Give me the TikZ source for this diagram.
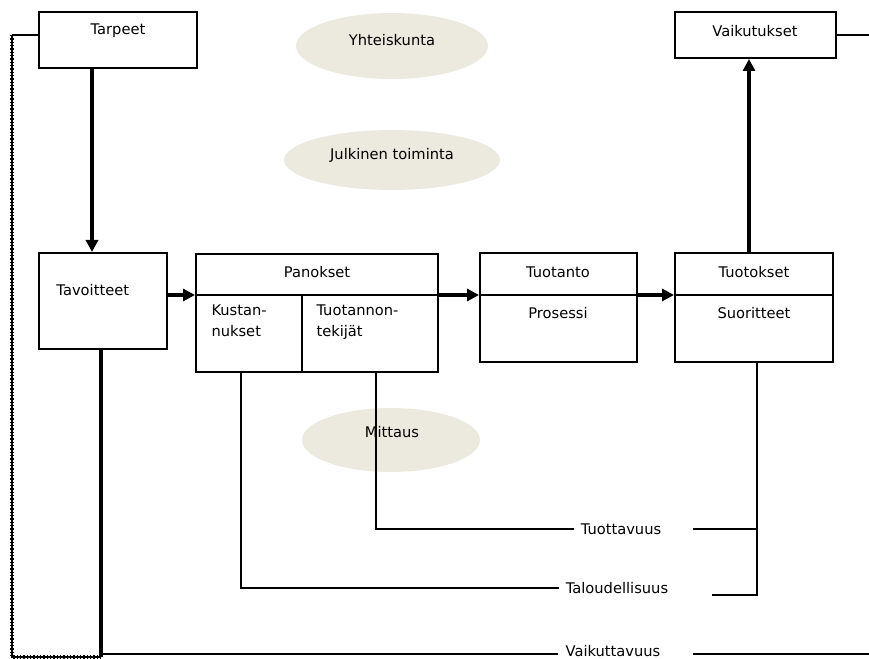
\documentclass[tikz,border=0pt]{standalone}
\usepackage{fontspec}
\setmainfont{DejaVu Sans}
\usetikzlibrary{positioning,shapes.geometric,arrows.meta}
\definecolor{mistgray}{RGB}{236,233,222}

\tikzset{every picture/.style={line width=0.75pt}}
\tikzset{
  box/.style={draw, line width=1.5pt, inner sep=0pt},
  cloud/.style={ellipse, fill=mistgray, draw=none, inner sep=0pt},
  txt/.style={inner sep=0.75pt, font=\fontsize{11}{16}\selectfont},
  measure/.style={txt, inner xsep=5pt},
  wire/.style={line width=1.5pt},
  bar/.style={line width=3pt},
  flow/.style={line width=3pt, -{Triangle[length=9pt,width=9pt]}},
  hatch/.style={line width=1pt, preaction={draw, line width=3pt, dash pattern=on 1pt off 1.5pt}}
}

\begin{document}
\begin{tikzpicture}[x=0.75pt,y=0.75pt,yscale=-1,xscale=1]
\useasboundingbox (0,0) rectangle (869,659);

%Ellipses
\node[cloud, minimum width=144pt, minimum height=49.5pt] (yhteis) at (392,46) {};
\node[cloud, minimum width=162pt, minimum height=45pt] (julkinen) at (392,160) {};
\node[cloud, minimum width=133.5pt, minimum height=48pt] (mittaus) at (391,440) {};
% Text Node
\node[txt] (yhteisT) at (392,40) {Yhteiskunta};
\node[txt] (julkinenT) at (392,155) {Julkinen toiminta};
\node[txt] (mittausT) at (392,432) {Mittaus};

%Rectangles
\node[box, minimum width=118.5pt, minimum height=42pt] (tarpeet) at (118,40) {};
\node[box, minimum width=120.75pt, minimum height=34.5pt] (vaikutukset) at (755.5,35) {};
\node[box, minimum width=96pt, minimum height=72pt] (tavoitteet) at (103,301) {};
\node[box, minimum width=181.5pt, minimum height=88.5pt] (panokset) at (317,313) {};
\node[box, minimum width=117.75pt, minimum height=81.75pt] (tuotanto) at (558.5,307.5) {};
\node[box, minimum width=118.5pt, minimum height=81.75pt] (tuotokset) at (754,307.5) {};

%Dividers
\draw[wire] (panokset.west |- 0,295) -- (panokset.east |- 0,295);
\draw[wire] (302,295) -- (panokset.south -| 302,0);
\draw[wire] (tuotanto.west |- 0,295) -- (tuotanto.east |- 0,295);
\draw[wire] (tuotokset.west |- 0,295) -- (tuotokset.east |- 0,295);

% Text Node
\node[txt] (tarpeetT) at (118,31) {Tarpeet};
\node[txt] (vaikutuksetT) at (755,31) {Vaikutukset};
\node[txt, anchor=west] (tavoitteetT) at (55,290) {Tavoitteet};
\node[txt] (panoksetT) at (317,272) {Panokset};
\node[txt, anchor=north west, align=left] (kustT) at (210,303) {Kustan-\\nukset};
\node[txt, anchor=north west, align=left] (tekijatT) at (315,303) {Tuotannon-\\tekijät};
\node[txt] (tuotantoT) at (558,272) {Tuotanto};
\node[txt] (prosessiT) at (558,313) {Prosessi};
\node[txt] (tuotoksetT) at (754,272) {Tuotokset};
\node[txt] (suoritteetT) at (754,313) {Suoritteet};

%Flow arrows
\draw[flow] (tarpeet.south -| 92,0) -- (tavoitteet.north -| 92,0);
\draw[flow] (tavoitteet.east |- 0,295) -- (panokset.west |- 0,295);
\draw[flow] (panokset.east |- 0,295) -- (tuotanto.west |- 0,295);
\draw[flow] (tuotanto.east |- 0,295) -- (tuotokset.west |- 0,295);
\draw[flow] (tuotokset.north -| 749,0) -- (vaikutukset.south -| 749,0);

%Measures
\node[measure] (tuottavuus) at (621,529) {Tuottavuus};
\node[measure] (taloudellisuus) at (617,588) {Taloudellisuus};
\node[measure] (vaikuttavuus) at (613,651) {Vaikuttavuus};
\coordinate (suorA) at (693,529);
\coordinate (suorB) at (712,595);
\coordinate (vaikA) at (693,654);
\coordinate (vaikB) at (869,654);
\coordinate (oikea) at (869,35);

\draw[wire] (panokset.south -| 376,0) |- (tuottavuus.west);
\draw[wire] (panokset.south -| 241,0) |- (taloudellisuus.west);
\draw[wire] (tuotokset.south -| 757,0) |- (suorB);
\draw[wire] (suorA) -- (suorA -| 757,0);
\draw[bar] (tavoitteet.south -| 101,0) -- (101,657);
\draw[wire] (101,654) -- (vaikuttavuus.west |- 0,654);
\draw[wire] (vaikA) -- (vaikB);

%Outer loop
\draw[wire] (tarpeet.west |- 0,35) -- (12,35);
\draw[hatch] (12,35) -- (12,657) -- (101,657);
\draw[wire] (vaikutukset.east) -- (oikea);

\end{tikzpicture}
\end{document}
